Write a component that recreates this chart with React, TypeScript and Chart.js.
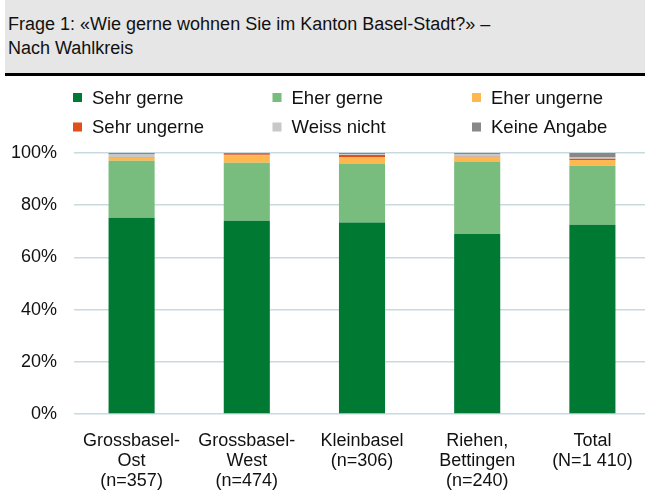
import React, { useEffect, useRef } from "react";
import { Chart, registerables } from "chart.js";

Chart.register(...registerables);

const titleLines = ["Frage 1: «Wie gerne wohnen Sie im Kanton Basel-Stadt?» –", "Nach Wahlkreis"];

const categories: string[][] = [
  ["Grossbasel-", "Ost", "(n=357)"],
  ["Grossbasel-", "West", "(n=474)"],
  ["Kleinbasel", "(n=306)"],
  ["Riehen,", "Bettingen", "(n=240)"],
  ["Total", "(N=1 410)"],
];

const seriesNames = ["Sehr gerne", "Eher gerne", "Eher ungerne", "Sehr ungerne", "Weiss nicht", "Keine Angabe"];
const seriesColors = ["#007A33", "#78BC7E", "#FFB84F", "#E0501A", "#C8C8C8", "#888888"];

const sehrGerne = [75.2, 74.0, 73.4, 69.0, 72.5];
const eherGerne = [21.8, 22.3, 22.4, 27.7, 22.6];
const eherUngerne = [1.3, 2.8, 2.5, 1.8, 2.2];
const sehrUngerne = [0.2, 0.4, 0.9, 0.1, 0.5];
const weissNicht = [0.9, 0.1, 0.3, 1.0, 0.5];
const keineAngabe = [0.6, 0.4, 0.5, 0.4, 1.7];

const seriesValues = [sehrGerne, eherGerne, eherUngerne, sehrUngerne, weissNicht, keineAngabe];

const yTicks = [0, 20, 40, 60, 80, 100];

const FONT = "'Liberation Sans', Arial, Helvetica, sans-serif";

const legendPlugin = {
  id: "gridLegend",
  afterDraw(chart: any) {
    const ctx = chart.ctx;
    ctx.save();
    ctx.font = `18.5px ${FONT}`;
    ctx.textBaseline = "middle";
    ctx.textAlign = "left";
    chart.data.datasets.forEach((ds: any, i: number) => {
      const col = i % 3;
      const row = Math.floor(i / 3);
      const x = 73 + col * 199.5;
      const yc = 97.5 + row * 29.5;
      ctx.fillStyle = ds.backgroundColor;
      ctx.fillRect(x, yc - 4.5, 9, 9);
      ctx.fillStyle = "#111";
      ctx.fillText(ds.label, x + 19, yc + 1);
    });
    ctx.restore();
  },
};

export default function App() {
  const canvasRef = useRef<HTMLCanvasElement | null>(null);

  useEffect(() => {
    if (!canvasRef.current) return;
    const chart = new Chart(canvasRef.current, {
      type: "bar",
      data: {
        labels: categories,
        datasets: seriesNames.map((name, i) => ({
          label: name,
          data: seriesValues[i],
          backgroundColor: seriesColors[i],
          borderWidth: 0,
          barPercentage: 0.4,
          categoryPercentage: 1,
        })),
      },
      options: {
        responsive: false,
        animation: false,
        layout: { padding: { top: 153, right: 0, bottom: 0, left: 0 } },
        plugins: {
          legend: { display: false },
          tooltip: { enabled: false },
          title: { display: false },
        },
        scales: {
          x: {
            stacked: true,
            grid: { display: false, drawTicks: false },
            border: { display: false },
            ticks: {
              color: "#111",
              font: { family: FONT, size: 18, lineHeight: 1.111 },
              padding: 17,
              maxRotation: 0,
              autoSkip: false,
            },
            afterFit: (scale: any) => {
              scale.height = 78;
            },
          },
          y: {
            stacked: true,
            min: 0,
            max: 100,
            afterBuildTicks: (scale: any) => {
              scale.ticks = yTicks.map((v) => ({ value: v }));
            },
            grid: { color: "#C8DADE", lineWidth: 1.5, drawTicks: false },
            border: { display: false },
            ticks: {
              color: "#111",
              font: { family: FONT, size: 18 },
              padding: 17,
              callback: (v: any) => `${v}%`,
            },
            afterFit: (scale: any) => {
              scale.width = 74;
            },
          },
        },
      },
      plugins: [legendPlugin],
    });
    return () => chart.destroy();
  }, []);

  return (
    <div
      style={{
        position: "fixed",
        left: 0,
        top: 0,
        width: 645,
        height: 492,
        overflow: "hidden",
        background: "#fff",
      }}
    >
      <canvas
        ref={canvasRef}
        width={650}
        height={492}
        style={{ position: "absolute", left: 0, top: 0, width: 650, height: 492 }}
      />
      <div
        style={{
          position: "absolute",
          left: 5,
          top: 0,
          width: 640,
          background: "#E6E6E6",
          borderBottom: "3px solid #000",
          fontFamily: FONT,
          fontSize: 18,
          lineHeight: "23.5px",
          color: "#111",
          paddingTop: 13,
          paddingLeft: 3,
          boxSizing: "border-box",
          height: 76,
        }}
      >
        {titleLines.map((t, i) => (
          <div key={i}>{t}</div>
        ))}
      </div>
    </div>
  );
}
